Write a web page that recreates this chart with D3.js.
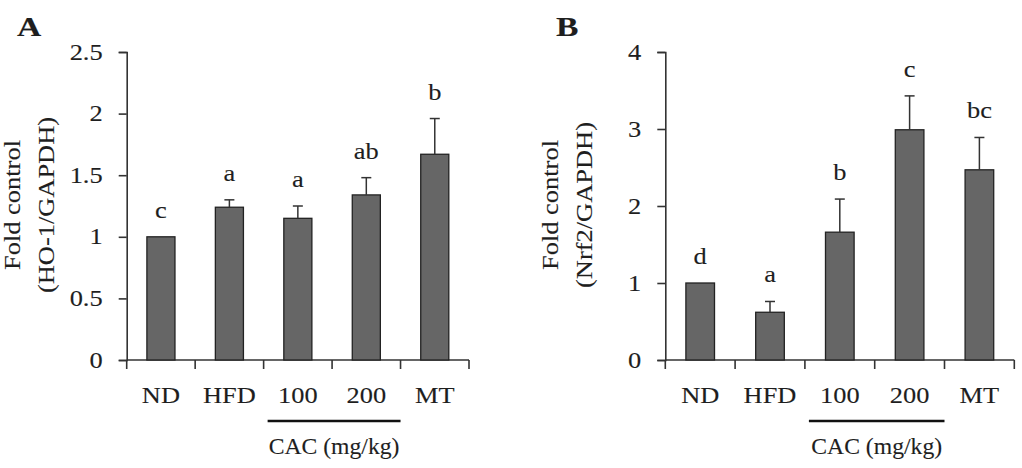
<!DOCTYPE html>
<html><head><meta charset="utf-8">
<script src="https://cdn.jsdelivr.net/npm/d3@7"></script>
<style>
html,body{margin:0;padding:0;background:#fff;}
svg text{font-family:"Liberation Serif","Times New Roman",serif;fill:#1e1e1e;stroke:#1e1e1e;stroke-width:0.12px;}
</style></head>
<body><svg id="c" width="1022" height="468"></svg>
<script>
const categories = ["ND","HFD","100","200","MT"];
const hoValues  = [1.00, 1.24, 1.15, 1.34, 1.67];
const hoErrors  = [0.00, 0.06, 0.10, 0.14, 0.29];
const hoLetters = ["c","a","a","ab","b"];
const hoTicks   = [0, 0.5, 1, 1.5, 2, 2.5];
const nrfValues  = [1.00, 0.62, 1.66, 2.99, 2.47];
const nrfErrors  = [0.00, 0.14, 0.43, 0.44, 0.42];
const nrfLetters = ["d","a","b","c","bc"];
const nrfTicks   = [0, 1, 2, 3, 4];
const groupLabel = "CAC (mg/kg)";
const groupMembers = ["100","200"];

const svg = d3.select("#c");
const SX = 1.15;
const FS = 23;

function panel(o){
  const g = svg.append("g");
  const y = d3.scaleLinear().domain([0, o.max]).range([360, 52]);
  const x = d3.scaleBand().domain(categories).range([o.x0, o.x1]).paddingInner(0.59).paddingOuter(0.295);
  const step = x.step();
  const bw = x.bandwidth();
  // panel letter
  g.append("text").attr("transform",`translate(${o.lx},36) scale(1.2,1)`)
    .attr("font-size",28).attr("font-weight","bold").attr("fill","#111").text(o.letter);
  // y axis
  const ya = g.append("g").attr("transform",`translate(${o.x0},0)`)
    .call(d3.axisLeft(y).tickValues(o.ticks).tickSize(8).tickFormat(""));
  ya.select(".domain").attr("stroke","#333").attr("stroke-width",1.6);
  ya.selectAll(".tick line").attr("stroke","#333").attr("stroke-width",1.6);
  g.selectAll(".ylab").data(o.ticks).join("text")
    .attr("transform",d=>`translate(${o.x0-24},${y(d)+7.5}) scale(${SX},1)`)
    .attr("text-anchor","end").attr("font-size",FS).text(d=>d3.format("")(d));
  // x axis
  g.append("line").attr("x1",o.x0).attr("x2",o.x1).attr("y1",y(0)).attr("y2",y(0))
    .attr("stroke","#333").attr("stroke-width",1.6);
  const bps = categories.map((c,i)=> i===0 ? o.x0 : x(c) - (step-bw)/2).concat([o.x1]);
  g.selectAll(".xt").data(bps).join("line")
    .attr("x1",d=>d).attr("x2",d=>d).attr("y1",y(0)).attr("y2",y(0)+9)
    .attr("stroke","#333").attr("stroke-width",1.6);
  // bars
  g.selectAll(".bar").data(o.values).join("rect")
    .attr("x",(d,i)=>x(categories[i])).attr("width",bw)
    .attr("y",d=>y(d)).attr("height",d=>y(0)-y(d))
    .attr("fill","#666").attr("stroke","#222").attr("stroke-width",1.3);
  // error bars
  o.values.forEach((v,i)=>{
    const e=o.errors[i]; if(!e) return;
    const cx=x(categories[i])+bw/2;
    g.append("line").attr("x1",cx).attr("x2",cx).attr("y1",y(v)).attr("y2",y(v+e))
      .attr("stroke","#333").attr("stroke-width",1.5);
    g.append("line").attr("x1",cx-5).attr("x2",cx+5).attr("y1",y(v+e)).attr("y2",y(v+e))
      .attr("stroke","#333").attr("stroke-width",1.5);
  });
  // letters
  g.selectAll(".let").data(o.letters).join("text")
    .attr("transform",(d,i)=>`translate(${x(categories[i])+bw/2},${y(o.values[i]+o.errors[i])-19}) scale(${SX},1)`)
    .attr("text-anchor","middle").attr("font-size",FS).text(d=>d);
  // x labels
  g.selectAll(".xl").data(categories).join("text")
    .attr("transform",d=>`translate(${x(d)+bw/2},403) scale(1.1,1)`)
    .attr("text-anchor","middle").attr("font-size",24).text(d=>d);
  // group bracket
  const gx0 = x(groupMembers[0]) - (step-bw)/2 + 4;
  const gx1 = x(groupMembers[1]) + bw + (step-bw)/2;
  g.append("line").attr("x1",gx0).attr("x2",gx1).attr("y1",421).attr("y2",421)
    .attr("stroke","#111").attr("stroke-width",2.6);
  g.append("text").attr("transform",`translate(${(gx0+gx1)/2},454) scale(1.03,1)`)
    .attr("text-anchor","middle").attr("font-size",FS).text(groupLabel);
  // y title
  const tcy = 205;
  g.append("text").attr("transform",`translate(${o.x0-107},${tcy}) rotate(-90) scale(${SX},1)`)
    .attr("text-anchor","middle").attr("font-size",FS).text("Fold control");
  g.append("text").attr("transform",`translate(${o.x0-73},${tcy}) rotate(-90) scale(${SX},1)`)
    .attr("text-anchor","middle").attr("font-size",FS).text(o.ytitle);
}

panel({letter:"A", lx:17, x0:126.7, x1:469, max:2.5, ticks:hoTicks, values:hoValues, errors:hoErrors, letters:hoLetters, ytitle:"(HO-1/GAPDH)"});
panel({letter:"B", lx:556, x0:665.3, x1:1014.3, max:4, ticks:nrfTicks, values:nrfValues, errors:nrfErrors, letters:nrfLetters, ytitle:"(Nrf2/GAPDH)"});
</script></body></html>
